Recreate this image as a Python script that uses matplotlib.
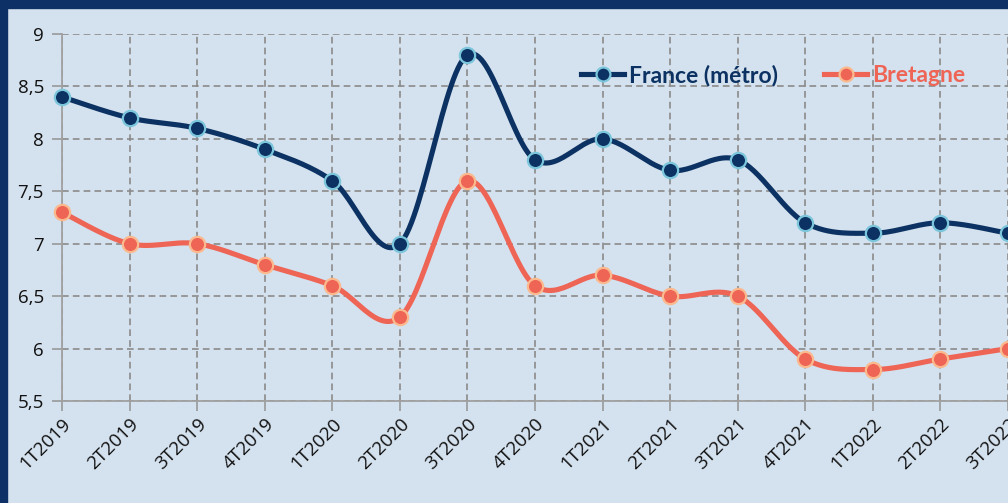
import numpy as np
import matplotlib
matplotlib.use("Agg")
import matplotlib.pyplot as plt
from matplotlib.lines import Line2D
from matplotlib.patches import Rectangle

categories = ["1T2019", "2T2019", "3T2019", "4T2019", "1T2020", "2T2020", "3T2020",
              "4T2020", "1T2021", "2T2021", "3T2021", "4T2021", "1T2022", "2T2022", "3T2022"]
france = [8.4, 8.2, 8.1, 7.9, 7.6, 7.0, 8.8, 7.8, 8.0, 7.7, 7.8, 7.2, 7.1, 7.2, 7.1]
bretagne = [7.3, 7.0, 7.0, 6.8, 6.6, 6.3, 7.6, 6.6, 6.7, 6.5, 6.5, 5.9, 5.8, 5.9, 6.0]
yticks = [5.5, 6, 6.5, 7, 7.5, 8, 8.5, 9]
ytick_labels = ["5,5", "6", "6,5", "7", "7,5", "8", "8,5", "9"]

NAVY = "#0b3262"
CORAL = "#ee6455"
BG = "#d4e1ee"


def smooth(x, y, n=30):
    x = np.asarray(x, float)
    y = np.asarray(y, float)
    X, Y = [], []
    m = len(x)
    for i in range(m - 1):
        p0 = np.array([x[max(i - 1, 0)], y[max(i - 1, 0)]])
        p1 = np.array([x[i], y[i]])
        p2 = np.array([x[i + 1], y[i + 1]])
        p3 = np.array([x[min(i + 2, m - 1)], y[min(i + 2, m - 1)]])
        c1 = p1 + (p2 - p0) / 6
        c2 = p2 - (p3 - p1) / 6
        s = np.linspace(0, 1, n)[:, None]
        b = (1 - s) ** 3 * p1 + 3 * (1 - s) ** 2 * s * c1 + 3 * (1 - s) * s ** 2 * c2 + s ** 3 * p2
        X.extend(b[:, 0])
        Y.extend(b[:, 1])
    return np.array(X), np.array(Y)


fig = plt.figure(figsize=(10.08, 5.03), dpi=100)
fig.patch.set_facecolor(BG)
ax = fig.add_axes([62 / 1008, 102 / 503, 946 / 1008, 367 / 503])
ax.set_facecolor(BG)

x = np.arange(len(categories))
for data, col, edge in [(france, NAVY, "#7cc6dc"), (bretagne, CORAL, "#fbb98e")]:
    sx, sy = smooth(x, data)
    ax.plot(sx, sy, color=col, lw=3.7, solid_capstyle="round", clip_on=False, zorder=3)
    ax.plot(x, data, ls="none", marker="o", ms=11, mfc=col, mec=edge, mew=1.6,
            clip_on=False, zorder=4)

ax.set_xlim(0, 14)
ax.set_ylim(5.5, 9)
ax.set_xticks(x)
ax.set_xticklabels(categories, rotation=45, ha="right", va="top", rotation_mode="anchor",
                   fontsize=13.5, family="Open Sans", color="#111111")
ax.set_yticks(yticks)
ax.set_yticklabels(ytick_labels, fontsize=13.5, family="Open Sans", color="#111111")
ax.tick_params(axis="both", length=7, color="#999999", width=1.2)
ax.tick_params(axis="y", pad=6)
ax.tick_params(axis="x", pad=3)
ax.grid(True, ls=(0, (4, 2.5)), color="#8a8a8a", lw=1.2)
for s in ["top", "right"]:
    ax.spines[s].set_visible(False)
for s in ["left", "bottom"]:
    ax.spines[s].set_color("#a0a0a0")
    ax.spines[s].set_linewidth(1.3)
ax.set_axisbelow(True)

handles = [
    Line2D([], [], color=NAVY, lw=3.7, marker="o", ms=10, mfc=NAVY, mec="#7cc6dc", mew=1.6),
    Line2D([], [], color=CORAL, lw=3.7, marker="o", ms=10, mfc=CORAL, mec="#fbb98e", mew=1.6),
]
leg = ax.legend(handles, ["France (métro)", "Bretagne"], ncol=2, frameon=False,
                loc="center", bbox_to_anchor=((773 - 62) / 946, 1 - 41 / 367),
                prop={"family": "Lato", "weight": "bold", "size": 16.5},
                handlelength=1.9, handletextpad=0.2, columnspacing=2.0)
for txt, col in zip(leg.get_texts(), [NAVY, CORAL]):
    txt.set_color(col)

fig.patches.append(Rectangle((0, 1 - 8 / 503), 1, 8 / 503, transform=fig.transFigure,
                             color="#0d3166", zorder=10))
fig.patches.append(Rectangle((0, 0), 7 / 1008, 1, transform=fig.transFigure,
                             color="#0d3166", zorder=10))

fig.savefig("out.png", dpi=100, facecolor=BG)
